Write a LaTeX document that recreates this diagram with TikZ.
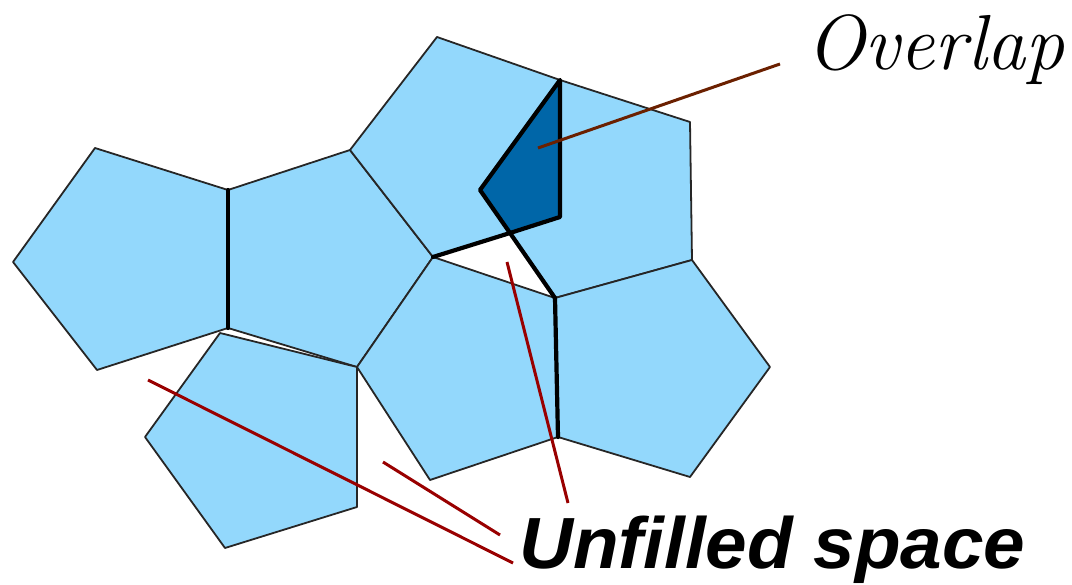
\documentclass[tikz,border=0pt]{standalone}
\usepackage{fontspec}
\newfontfamily\labelsans{Liberation Sans}
\definecolor{tilefill}{HTML}{93D8FC}
\definecolor{overfill}{HTML}{0066A8}
\definecolor{leadred}{HTML}{990000}
\definecolor{leadbrown}{HTML}{6B2000}
\tikzset{
  tile/.style={fill=tilefill, draw=black!85, line width=1.8pt, line join=round},
  thickedge/.style={draw=black, line width=4.2pt, line cap=round, line join=round},
  redlead/.style={draw=leadred, line width=3pt},
  brownlead/.style={draw=leadbrown, line width=3pt},
  overlabel/.style={inner sep=0pt, anchor=base west, font=\fontsize{78}{82}\selectfont\itshape},
  unfilledlabel/.style={inner sep=0pt, anchor=base west, font=\labelsans\fontsize{72.5}{78}\selectfont\bfseries\itshape}
}
\begin{document}
\begin{tikzpicture}[x=1pt,y=-1pt]
\useasboundingbox (0,0) rectangle (1072,585);
% vertices
\coordinate (a1) at (13,262);
\coordinate (a2) at (95,148);
\coordinate (a3) at (228,190);
\coordinate (a4) at (228,328);
\coordinate (a5) at (97,370);
\coordinate (b2) at (350,150);
\coordinate (b3) at (433,257);
\coordinate (b4) at (357,367);
\coordinate (c2) at (437,37);
\coordinate (c3) at (560,80);
\coordinate (c4) at (560,217);
\coordinate (d1) at (480,190);
\coordinate (d3) at (690,122);
\coordinate (d4) at (692,260);
\coordinate (d5) at (555,298);
\coordinate (e4) at (558,437);
\coordinate (e5) at (430,480);
\coordinate (f3) at (770,367);
\coordinate (f4) at (690,477);
\coordinate (g1) at (220,333);
\coordinate (g3) at (357,507);
\coordinate (g4) at (225,548);
\coordinate (g5) at (145,437);
\coordinate (x1) at (510,233);
% tiles
\draw[tile] (a1) -- (a2) -- (a3) -- (a4) -- (a5) -- cycle;
\draw[tile] (a3) -- (b2) -- (b3) -- (b4) -- (a4) -- cycle;
\draw[tile] (b2) -- (c2) -- (c3) -- (c4) -- (b3) -- cycle;
\draw[tile] (d1) -- (c3) -- (d3) -- (d4) -- (d5) -- cycle;
\draw[tile] (b4) -- (b3) -- (d5) -- (e4) -- (e5) -- cycle;
\draw[tile] (d5) -- (d4) -- (f3) -- (f4) -- (e4) -- cycle;
\draw[tile] (g1) -- (b4) -- (g3) -- (g4) -- (g5) -- cycle;
% overlap
\fill[overfill] (c3) -- (c4) -- (x1) -- (d1) -- cycle;
\draw[thickedge] (c3) -- (c4) -- (x1) -- (d1) -- cycle;
% thick edges
\draw[thickedge] (a3) -- (a4);
\draw[thickedge] (d5) -- (e4);
\draw[thickedge] (b3) -- (x1) -- (d5);
% leader lines
\coordinate (ov0) at (538,148);
\coordinate (ov1) at (780,64);
\coordinate (u1a) at (148,380);
\coordinate (u1b) at (513,563);
\coordinate (u2a) at (383,462);
\coordinate (u2b) at (500,535);
\coordinate (u3a) at (507,262);
\coordinate (u3b) at (568,503);
\draw[brownlead] (ov0) -- (ov1);
\draw[redlead] (u1a) -- (u1b);
\draw[redlead] (u2a) -- (u2b);
\draw[redlead] (u3a) -- (u3b);
% labels
\node[overlabel] (overlap) at (806,70) {Overlap};
\node[unfilledlabel, xscale=1.03] (unfilled) at (519,568) {Unfilled space};
\end{tikzpicture}
\end{document}
